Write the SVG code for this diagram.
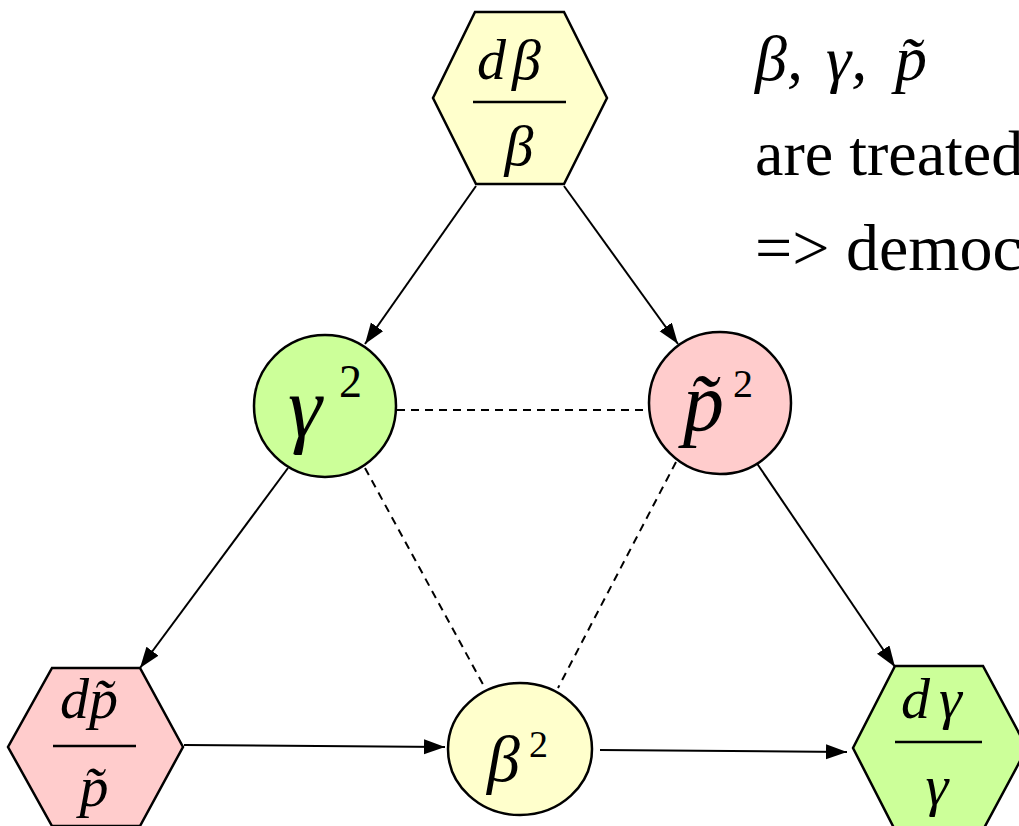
<svg xmlns="http://www.w3.org/2000/svg" width="1019" height="826" viewBox="0 0 1019 826">
<defs>
<marker id="ah" markerUnits="userSpaceOnUse" markerWidth="24" markerHeight="16" refX="21" refY="7.5" orient="auto">
<path d="M0,0 L21,7.5 L0,15 Z" fill="#000"/>
</marker>
<style>
.node{stroke:#000;stroke-width:2.5}
.m{font-family:"Liberation Serif","Times New Roman",serif;font-style:italic;fill:#000}
.n{font-family:"Liberation Serif","Times New Roman",serif;fill:#000}
.fl{stroke:#000;stroke-width:2.5}
.c{stroke:#000;stroke-width:2;fill:none}
.d{stroke:#000;stroke-width:2;fill:none;stroke-dasharray:8,6}
</style>
</defs>
<rect width="1019" height="826" fill="#fff"/>
<g id="connectors">
<line class="c" x1="476" y1="186" x2="365" y2="344" marker-end="url(#ah)"/>
<line class="c" x1="564" y1="186" x2="678" y2="344" marker-end="url(#ah)"/>
<line class="c" x1="288" y1="468" x2="140" y2="668" marker-end="url(#ah)"/>
<line class="c" x1="756" y1="462" x2="895" y2="667" marker-end="url(#ah)"/>
<line class="c" x1="184" y1="745" x2="445" y2="747" marker-end="url(#ah)"/>
<line class="c" x1="600" y1="750" x2="847" y2="752" marker-end="url(#ah)"/>
<line class="d" x1="397" y1="410" x2="649" y2="410"/>
<line class="d" x1="365" y1="468" x2="485" y2="688"/>
<line class="d" x1="676" y1="462" x2="558" y2="688"/>
</g>
<g id="n-dbeta">
<polygon class="node" fill="#ffffcc" points="475,12 564,12 607,98 564,184 476,184 433,98"/>
<text class="m" x="477" y="79" font-size="58">d<tspan x="512">β</tspan></text>
<line class="fl" x1="473" y1="102" x2="566" y2="102"/>
<text class="m" x="519" y="165" font-size="58" text-anchor="middle">β</text>
</g>
<g id="n-dp">
<polygon class="node" fill="#ffcccc" points="52,668 140,668 183,747 140,826 52,826 8,747"/>
<text class="m" x="89" y="718" font-size="58" text-anchor="middle">dp̃</text>
<line class="fl" x1="53" y1="746" x2="136" y2="746"/>
<text class="m" x="94" y="806" font-size="58" text-anchor="middle">p̃</text>
</g>
<g id="n-dgamma">
<polygon class="node" fill="#ccff99" points="895,666 983,666 1027,748 983,830 895,830 853,748"/>
<text class="m" x="901" y="718" font-size="58">d<tspan x="939">γ</tspan></text>
<line class="fl" x1="895" y1="742" x2="982" y2="742"/>
<text class="m" x="937" y="805" font-size="58" text-anchor="middle">γ</text>
</g>
<g id="n-gamma2">
<circle class="node" fill="#ccff99" cx="325" cy="406" r="71"/>
<text class="m" x="288" y="436" font-size="86">γ</text>
<text class="n" x="339" y="397" font-size="46">2</text>
</g>
<g id="n-p2">
<circle class="node" fill="#ffcccc" cx="720" cy="403" r="71"/>
<text class="m" x="683" y="430" font-size="82">p̃</text>
<text class="n" x="733" y="397" font-size="40">2</text>
</g>
<g id="n-beta2">
<ellipse class="node" fill="#ffffcc" cx="520" cy="749" rx="72" ry="66"/>
<text class="m" x="487" y="781" font-size="66">β</text>
<text class="n" x="529" y="757" font-size="38">2</text>
</g>
<g id="note">
<text class="m" y="80" font-size="64"><tspan x="755">β,</tspan><tspan x="826">γ,</tspan><tspan x="895">p̃</tspan></text>
<text class="n" x="755" y="175" font-size="64">are treated</text>
<text class="n" x="755" y="270" font-size="66">=&gt; democ</text>
</g>
</svg>
